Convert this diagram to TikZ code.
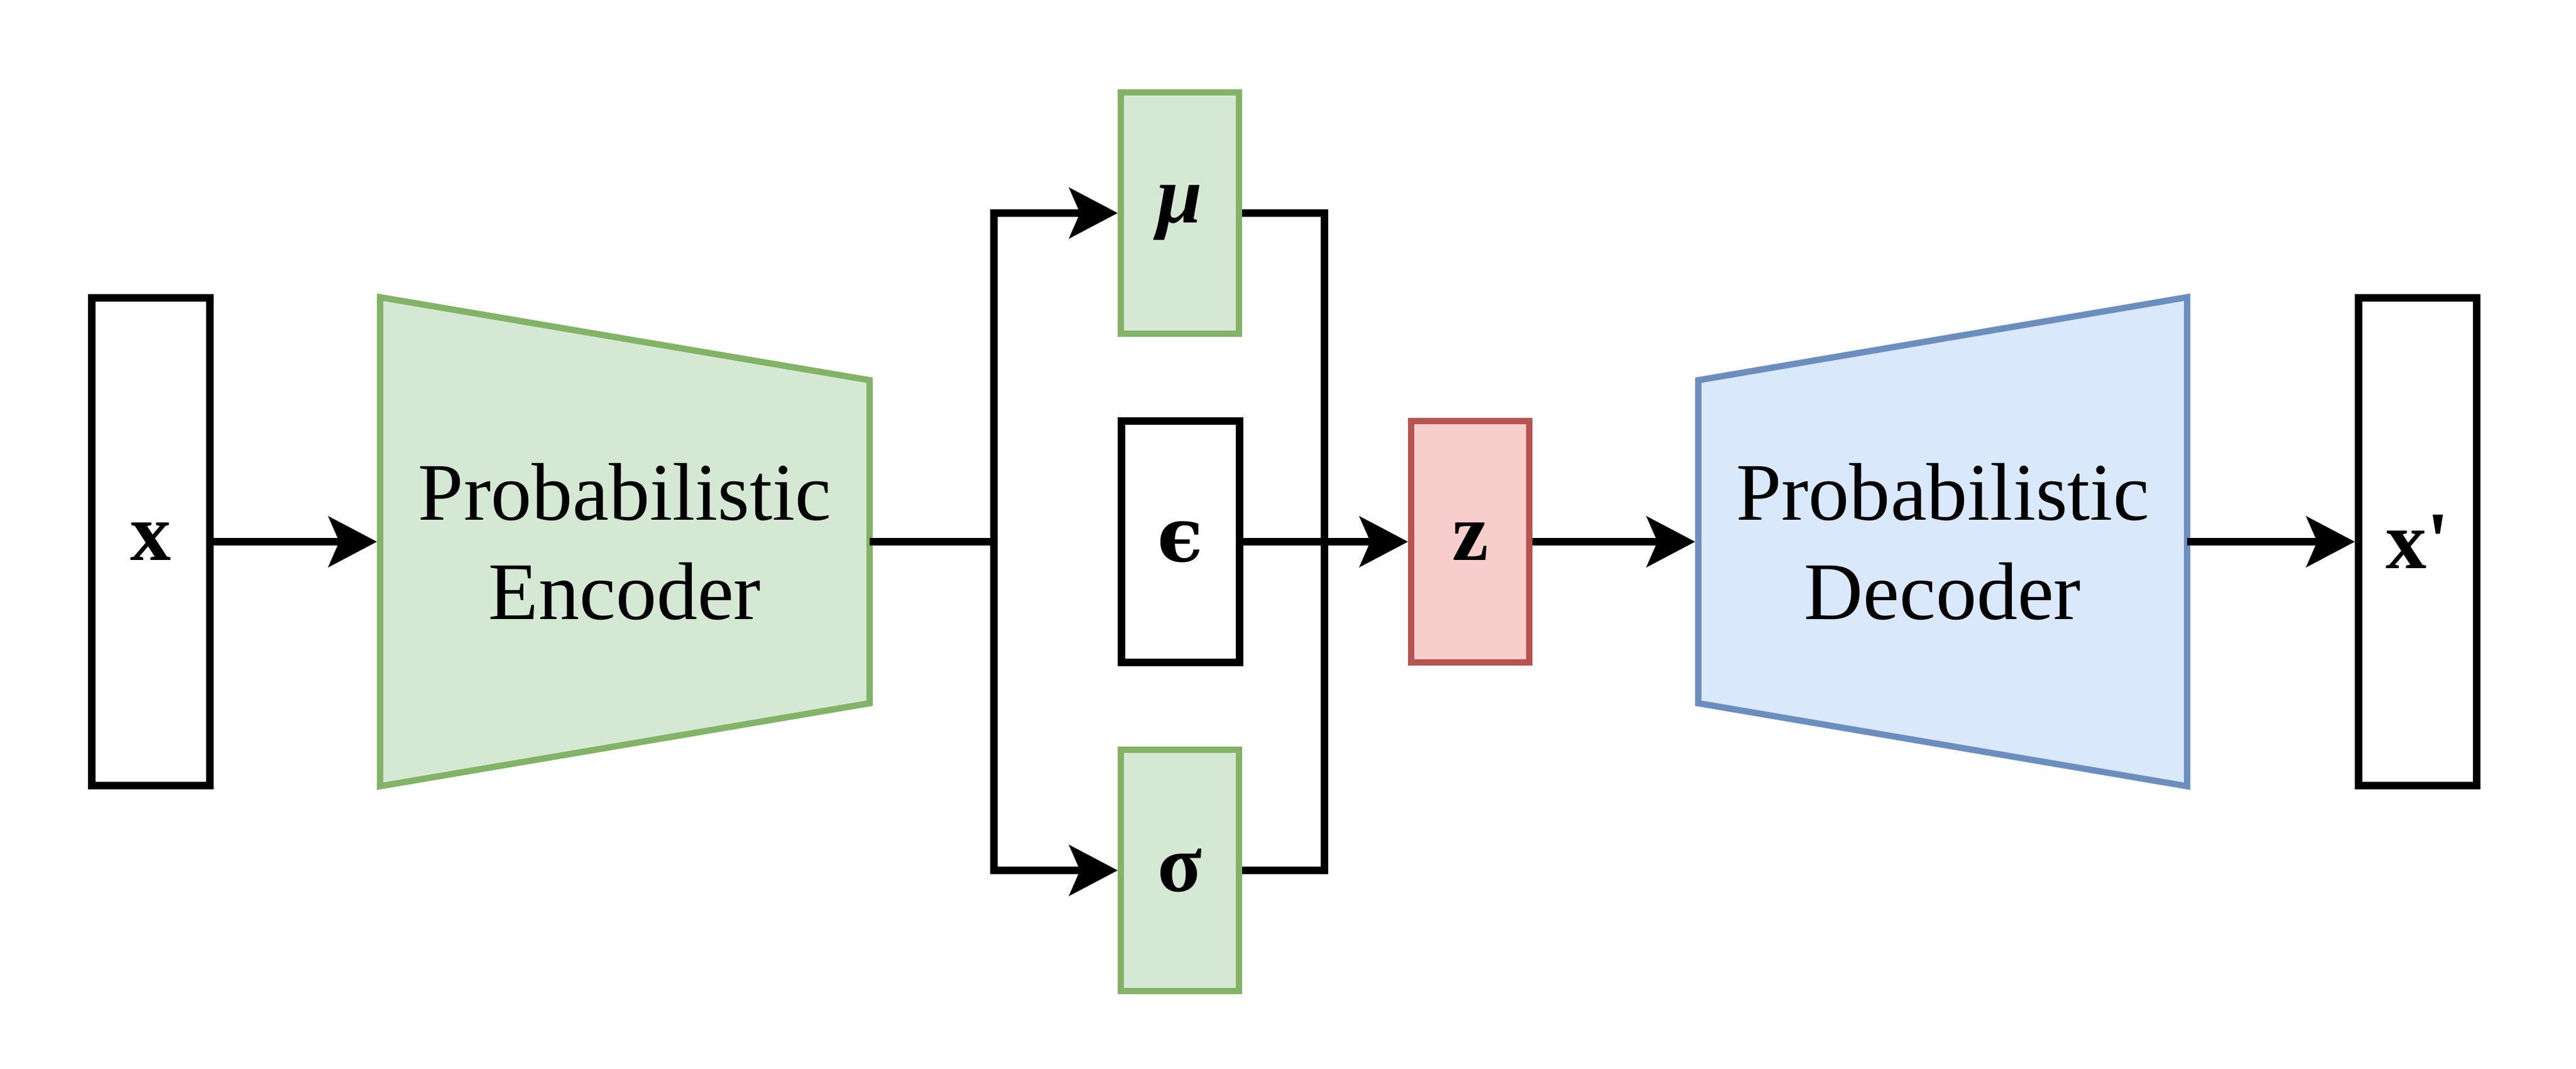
\documentclass[tikz,border=0pt]{standalone}
\usepackage{fontspec}
\usepackage{amsmath}
\setmainfont{Liberation Serif}
\newfontfamily\epsfont{DejaVu Serif}
\usetikzlibrary{arrows.meta}
\definecolor{gfill}{HTML}{D5E8D4}
\definecolor{gdraw}{HTML}{82B366}
\definecolor{rfill}{HTML}{F8CECC}
\definecolor{rdraw}{HTML}{B85450}
\definecolor{bfill}{HTML}{DAE8FC}
\definecolor{bdraw}{HTML}{6C8EBF}
\begin{document}
\begin{tikzpicture}[
  box/.style={draw=black, line width=0.12cm, minimum width=1.88cm, minimum height=3.84cm, inner sep=0pt,
              font=\fontsize{37}{44}\selectfont\bfseries},
  tall/.style={box, minimum height=7.76cm},
  gbox/.style={box, draw=gdraw, fill=gfill, line width=0.1cm},
  rbox/.style={box, draw=rdraw, fill=rfill, line width=0.1cm},
  conn/.style={line width=0.12cm},
  arr/.style={conn, -{Stealth[length=0.77cm,width=0.8cm,inset=0.17cm]}},
  lbl/.style={font=\fontsize{37}{45}\selectfont, align=center},
  encpoly/.style={draw=gdraw, fill=gfill, line width=0.1cm},
  decpoly/.style={draw=bdraw, fill=bfill, line width=0.1cm}
]
\useasboundingbox (0,0) rectangle (41,17);

% input
\node[tall] (x) at (2.4,8.38) {x};

% encoder
\draw[encpoly] (6.05,4.49) -- (6.05,12.27) -- (13.84,10.95) -- (13.84,5.81) -- cycle;
\coordinate (encin) at (6.0,8.38);
\coordinate (encout) at (13.84,8.38);
\node[lbl] (enc) at (9.945,8.38) {Probabilistic\\Encoder};
\draw[arr] (x.east) -- (encin);

% latent parameters
\node[gbox] (mu) at (18.78,13.61) {\textit{μ}};
\node[box] (eps) at (18.79,8.38) {{\epsfont\fontsize{34}{40}\selectfont\bfseries ϵ}};
\node[gbox] (sig) at (18.78,3.15) {σ};
\node[rbox] (z) at (23.4,8.38) {z};

\coordinate (jl) at (15.82,8.38);
\coordinate (jr) at (21.08,8.38);
\draw[conn] (encout) -- (jl);
\draw[arr] (jl) |- (mu.west);
\draw[arr] (jl) |- (sig.west);
\draw[conn] (mu.east) -| (jr) |- (sig.east);
\draw[arr] (eps.east) -- (z.west);

% decoder
\draw[decpoly] (27.03,5.81) -- (27.03,10.95) -- (34.81,12.27) -- (34.81,4.49) -- cycle;
\coordinate (decin) at (26.98,8.38);
\coordinate (decout) at (34.81,8.38);
\node[lbl] (dec) at (30.92,8.38) {Probabilistic\\Decoder};
\draw[arr] (z.east) -- (decin);

% output
\node[tall] (xp) at (38.48,8.38) {x\textquotesingle};
\draw[arr] (decout) -- (xp.west);
\end{tikzpicture}
\end{document}
